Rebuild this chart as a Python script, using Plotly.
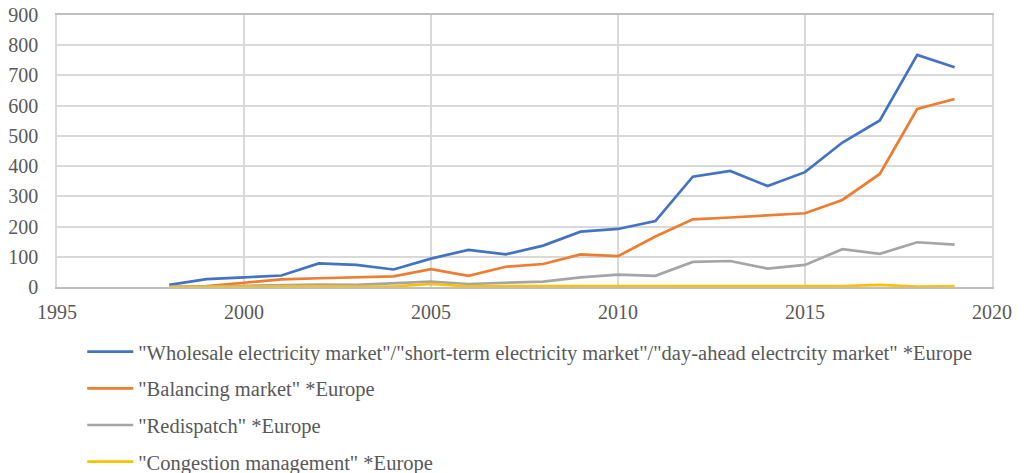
import plotly.graph_objects as go

years = list(range(1998, 2020))

wholesale = [7, 26, 32, 38, 78, 73, 58, 94, 123, 108, 137, 183, 192, 218,
             365, 384, 334, 380, 478, 551, 768, 727]
balancing = [0, 3, 14, 25, 29, 32, 35, 59, 37, 67, 76, 108, 102, 167,
             224, 230, 236, 244, 288, 374, 589, 622]
redispatch = [0, 2, 5, 7, 8, 7, 13, 18, 10, 13, 18, 32, 41, 37,
              83, 86, 61, 73, 125, 110, 148, 140]
congestion = [0, 1, 1, 2, 2, 1, 2, 10, 2, 3, 3, 2, 1, 3,
              3, 1, 2, 3, 3, 7, 1, 3]

series_names = [
    '"Wholesale electricity market"/"short-term electricity market"/"day-ahead electrcity market" *Europe',
    '"Balancing market" *Europe',
    '"Redispatch" *Europe',
    '"Congestion management" *Europe',
]
series_values = [wholesale, balancing, redispatch, congestion]
series_colors = ["#4472C4", "#ED7D31", "#A5A5A5", "#FFC000"]

x_ticks = [1995, 2000, 2005, 2010, 2015, 2020]
y_ticks = [0, 100, 200, 300, 400, 500, 600, 700, 800, 900]

SERIF = "Liberation Serif"
GREY_TEXT = "#595959"

fig = go.Figure()
for i, (name, vals, col) in enumerate(zip(series_names, series_values, series_colors)):
    fig.add_trace(go.Scatter(
        x=years, y=vals, name=name, mode="lines",
        line=dict(color=col, width=2.7),
        legendgroup=f"g{i}",
    ))

fig.update_layout(
    width=1033, height=473,
    margin=dict(l=57, r=41, t=15, b=186, autoexpand=False),
    paper_bgcolor="white", plot_bgcolor="white",
    font_family=SERIF, font_size=20, font_color=GREY_TEXT,
    showlegend=True,
    legend=dict(
        orientation="v",
        x=0.027, xanchor="left",
        y=-0.165, yanchor="top",
        traceorder="grouped",
        tracegroupgap=7,
        itemwidth=46,
        font_family=SERIF, font_size=20.5, font_color=GREY_TEXT,
        bgcolor="rgba(0,0,0,0)",
    ),
    xaxis=dict(
        range=[1995, 2020], tickvals=x_ticks, ticktext=[str(t) for t in x_ticks],
        showgrid=True, gridcolor="#D9D9D9", gridwidth=1.5,
        showline=True, linecolor="#BFBFBF", linewidth=1.5, mirror=True,
        zeroline=False, ticks="", ticklen=0, ticklabelstandoff=6,
        tickfont_family=SERIF, tickfont_size=20, tickfont_color=GREY_TEXT,
    ),
    yaxis=dict(
        range=[0, 900], tickvals=y_ticks,
        showgrid=True, gridcolor="#D9D9D9", gridwidth=1.5,
        showline=True, linecolor="#D9D9D9", linewidth=1.5, mirror=True,
        zeroline=False, ticks="", ticklen=0, ticklabelstandoff=13,
        tickfont_family=SERIF, tickfont_size=20, tickfont_color=GREY_TEXT,
    ),
)

fig.write_html("out.html")
